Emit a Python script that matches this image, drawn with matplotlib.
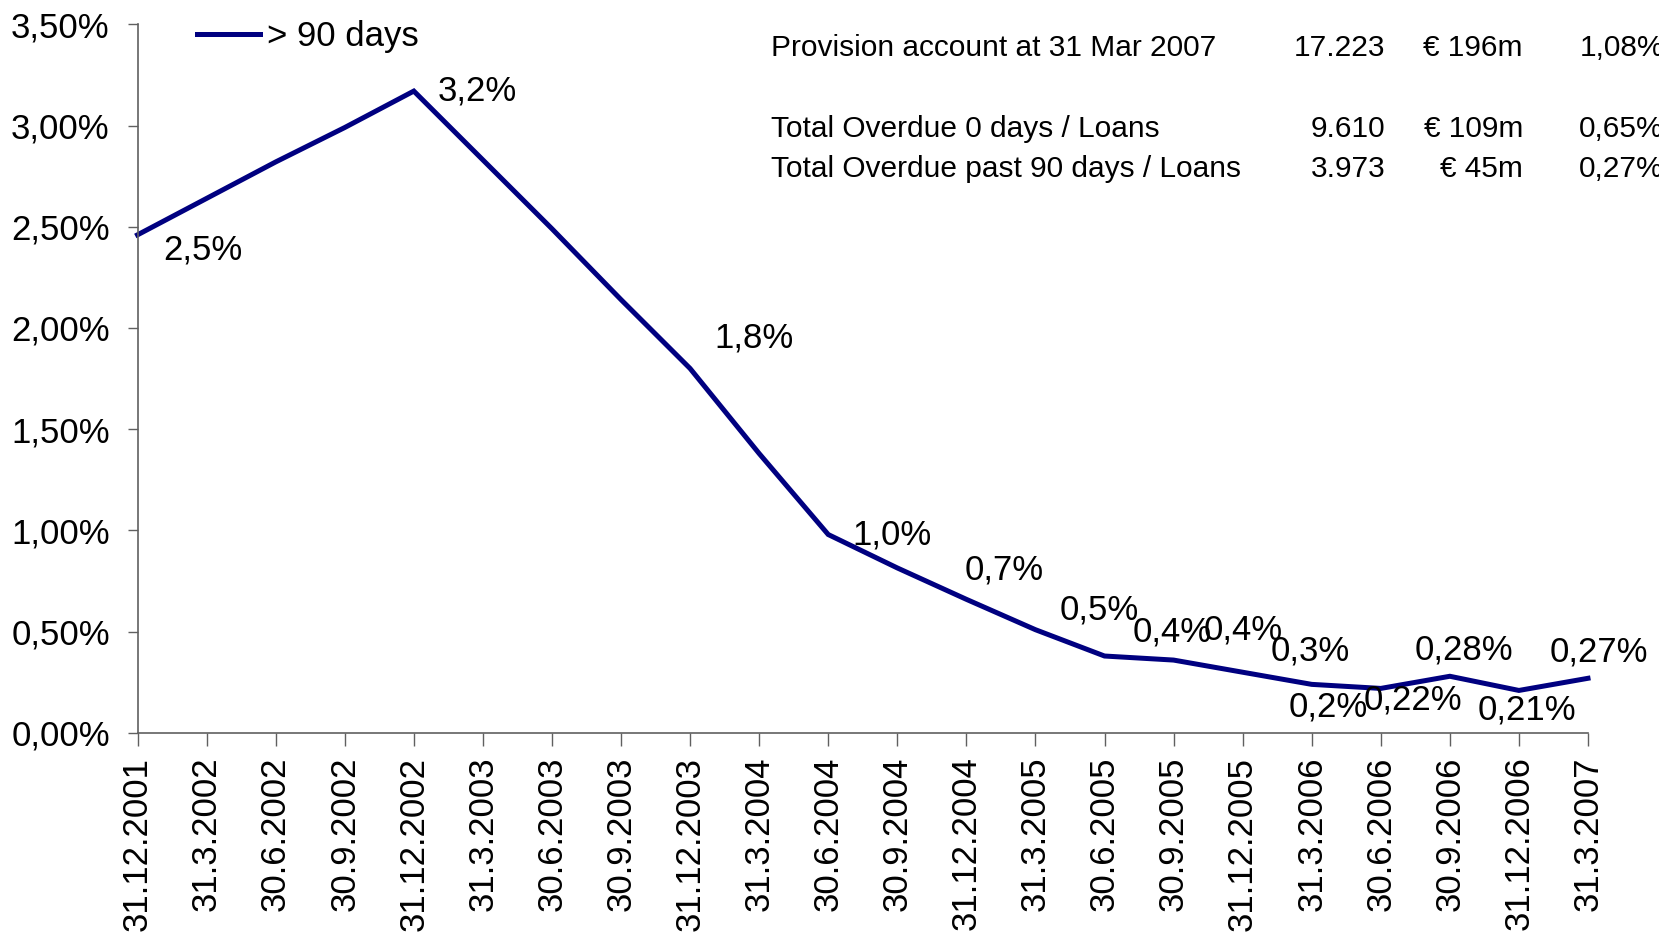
import numpy as np
import matplotlib
matplotlib.use("Agg")
import matplotlib.pyplot as plt
from matplotlib.ticker import FuncFormatter

plt.rcParams['font.family'] = ['Liberation Sans', 'DejaVu Sans']

# quarterly ratio of loans overdue > 90 days (%)
dates = ['31.12.2001', '31.3.2002', '30.6.2002', '30.9.2002', '31.12.2002',
         '31.3.2003', '30.6.2003', '30.9.2003', '31.12.2003', '31.3.2004',
         '30.6.2004', '30.9.2004', '31.12.2004', '31.3.2005', '30.6.2005',
         '30.9.2005', '31.12.2005', '31.3.2006', '30.6.2006', '30.9.2006',
         '31.12.2006', '31.3.2007']
overdue_90 = [2.46, 2.64, 2.82, 2.99, 3.17,
              2.83, 2.49, 2.14, 1.80, 1.38,
              0.98, 0.815, 0.66, 0.51, 0.38,
              0.36, 0.30, 0.24, 0.22, 0.28,
              0.21, 0.27]

# which points carry a value label, and with how many decimals
labelled = [0, 4, 8, 10, 12, 13, 14, 15, 16, 17, 18, 19, 20, 21]
label_decimals = [1, 1, 1, 1, 1, 1, 1, 1, 1, 1, 2, 2, 2, 2]

# summary table in the top right corner
table_rows = ['Provision account at 31 Mar 2007',
              'Total Overdue 0 days / Loans',
              'Total Overdue past 90 days / Loans']
table_counts = ['17.223', '9.610', '3.973']
table_amounts = ['€ 196m', '€ 109m', '€ 45m']
table_ratios = ['1,08%', '0,65%', '0,27%']

# label offsets in points (dx, dy)
offsets = {0: (47, -11), 4: (46, 0), 8: (46, 22), 10: (46, 0), 12: (27, 21),
           13: (46, 14), 14: (49, 17), 15: (50, 22), 16: (49, 15),
           17: (12, -16), 18: (23, -8), 19: (10, 19), 20: (6, -14), 21: (8, 19)}

fig = plt.figure(figsize=(16.59, 9.33), dpi=100)
ax = fig.add_axes([0.0829, 0.2144, 0.8743, 0.7596])

x = np.arange(len(dates))
ax.plot(x, overdue_90, color='#000080', lw=3.6, solid_joinstyle='miter',
        label='> 90 days', clip_on=False)

for i, d in zip(labelled, label_decimals):
    txt = f"{overdue_90[i]:.{d}f}".replace('.', ',') + '%'
    ax.annotate(txt, (x[i], overdue_90[i]), xytext=offsets[i],
                textcoords='offset points', ha='center', va='center',
                fontsize=25, color='black')

ax.set_xlim(0, len(dates) - 1)
ax.set_ylim(0, 3.5)
ax.set_yticks(np.arange(0, 3.51, 0.5))
ax.yaxis.set_major_formatter(FuncFormatter(lambda v, p: f"{v:.2f}".replace('.', ',') + '%'))
ax.set_xticks(x)
ax.set_xticklabels(dates, rotation=90, va='top', ha='center')

for s in ['top', 'right']:
    ax.spines[s].set_visible(False)
for s in ['left', 'bottom']:
    ax.spines[s].set_color('#606060')
    ax.spines[s].set_linewidth(1.2)
ax.tick_params(axis='y', length=7, width=1, color='#606060', pad=13, labelsize=25)
ax.tick_params(axis='x', length=9, width=1, color='#606060', pad=8, labelsize=25)

ax.legend(loc='upper left', bbox_to_anchor=(0.1, 1.012), bbox_transform=fig.transFigure,
          frameon=False, fontsize=25, handlelength=1.8, handletextpad=0.2)

row_y = [0.949, 0.862, 0.819]
for r, y in enumerate(row_y):
    fig.text(0.465, y, table_rows[r], fontsize=21.5, va='center', ha='left')
    fig.text(0.835, y, table_counts[r], fontsize=21.5, va='center', ha='right')
    fig.text(0.918, y, table_amounts[r], fontsize=21.5, va='center', ha='right')
    fig.text(0.952, y, table_ratios[r], fontsize=21.5, va='center', ha='left')

fig.savefig('out.png', dpi=100)
